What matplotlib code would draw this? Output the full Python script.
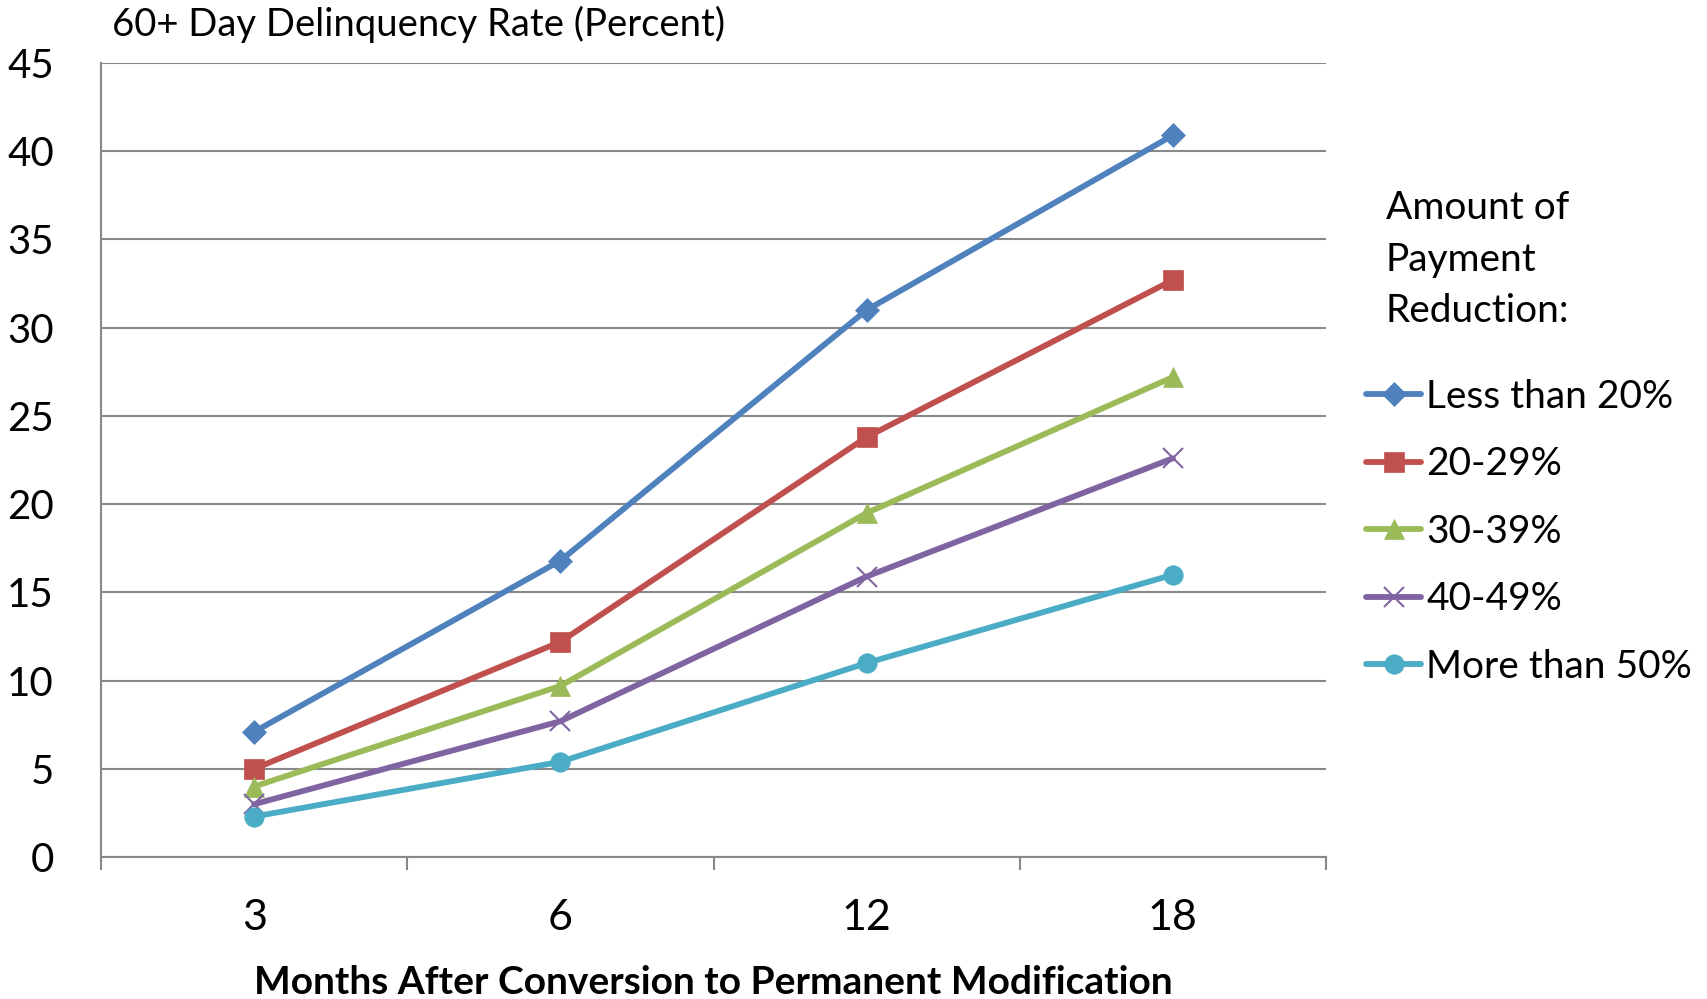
import matplotlib.pyplot as plt
import numpy as np

# Months after conversion (categorical x axis)
months = ['3', '6', '12', '18']

# 60+ day delinquency rate by payment reduction bucket
less_than_20 = [7.1, 16.8, 31.0, 40.9]
pct_20_29 = [5.0, 12.2, 23.8, 32.7]
pct_30_39 = [4.0, 9.7, 19.5, 27.2]
pct_40_49 = [3.0, 7.7, 15.9, 22.6]
more_than_50 = [2.3, 5.4, 11.0, 16.0]

labels = ['Less than 20%', '20-29%', '30-39%', '40-49%', 'More than 50%']
colors = ['#4F81BD', '#C0504D', '#9BBB59', '#8064A2', '#4BACC6']
markers = ['D', 's', '^', 'x', 'o']
msizes = [12, 14, 14, 14, 14]

plt.rcParams['font.family'] = ['Lato', 'DejaVu Sans']

fig = plt.figure(figsize=(17.07, 9.99), dpi=100)
ax = fig.add_axes([0.0592, 0.142, 0.7176, 0.795])

x = np.arange(len(months))
series = [less_than_20, pct_20_29, pct_30_39, pct_40_49, more_than_50]
for y, lab, c, m, ms in zip(series, labels, colors, markers, msizes):
    ax.plot(x, y, color=c, lw=4.2, marker=m, markersize=ms,
            markeredgewidth=1.5 if m == 'x' else 0.5, markeredgecolor=c,
            label=lab, solid_capstyle='round')

ax.set_xlim(-0.5, len(months) - 0.5)
ax.set_ylim(0, 45)
ax.set_yticks(np.arange(0, 46, 5))
ax.set_xticks(x)
ax.set_xticklabels(months)
ax.set_xticks(np.arange(-0.5, len(months), 1), minor=True)

ax.grid(axis='y', color='#888888', lw=1.5)
ax.set_axisbelow(True)
for s in ['top', 'right']:
    ax.spines[s].set_visible(False)
for s in ['left', 'bottom']:
    ax.spines[s].set_color('#888888')
    ax.spines[s].set_linewidth(1.5)

ax.tick_params(axis='y', length=0, pad=34, labelsize=29)
ax.tick_params(axis='x', which='major', length=0, pad=30, labelsize=31)
ax.tick_params(axis='x', which='minor', length=9, width=1.5, color='#888888',
               direction='out')

fig.text(0.418, 0.017, 'Months After Conversion to Permanent Modification',
         fontsize=28, fontweight='bold', ha='center', va='center')
fig.text(0.0657, 0.976, '60+ Day Delinquency Rate (Percent)', fontsize=27.5,
         ha='left', va='center')

fig.text(0.8119, 0.740, 'Amount of\nPayment\nReduction:', fontsize=28,
         ha='left', va='center', linespacing=1.53)
ax.legend(loc='upper left', bbox_to_anchor=(0.8004, 0.621),
          bbox_transform=fig.transFigure, frameon=False, fontsize=28,
          handlelength=1.4, handletextpad=0.14, labelspacing=0.81,
          borderpad=0, borderaxespad=0)

fig.savefig('out.png', dpi=100)
